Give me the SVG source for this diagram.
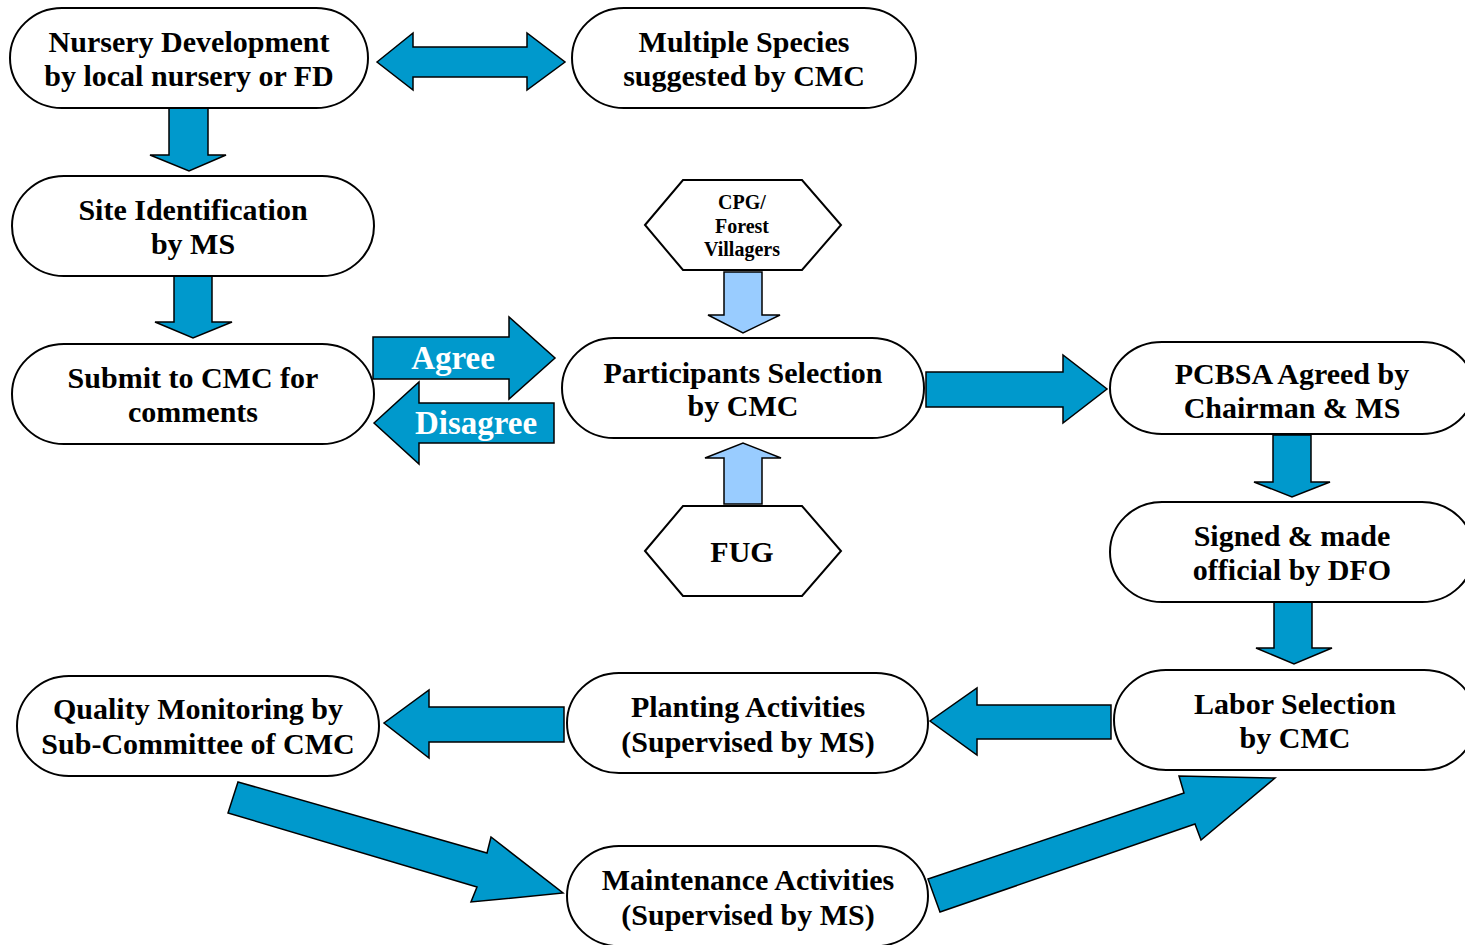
<svg xmlns="http://www.w3.org/2000/svg" width="1465" height="945" viewBox="0 0 1465 945">
<style>
.n{fill:#fff;stroke:#000;stroke-width:2}
.t{font-family:"Liberation Serif","Times New Roman",serif;font-weight:bold;font-size:30px;text-anchor:middle;fill:#000}
.s{font-size:20px}
.a{fill:#0099CC;stroke:#000;stroke-width:1.5;stroke-linejoin:miter}
.l{fill:#99CCFF;stroke:#000;stroke-width:1.5}
.w{font-family:"Liberation Serif","Times New Roman",serif;font-weight:bold;font-size:33px;text-anchor:middle;fill:#fff}
</style>
<rect width="1465" height="945" fill="#fff"/>
<g id="connectors">
<polygon class="a" points="377,62 413,33 413,47 527,47 527,33 565,62 527,90 527,77 413,77 413,90"/>
<polygon class="a" points="169,108 208,108 208,155 226,155 189,171 150,155 169,155"/>
<polygon class="a" points="174,276 212,276 212,322 232,322 193,338 155,322 174,322"/>
<polygon class="a" points="373,337 509,337 509,317 555,358 509,399 509,379 373,379"/>
<text class="w" x="453" y="369">Agree</text>
<polygon class="a" points="374,423 419,382 419,403 554,403 554,443 419,443 419,464"/>
<text class="w" x="476" y="434">Disagree</text>
<polygon class="l" points="724,272 762,272 762,315 780,315 743,333 708,315 724,315"/>
<polygon class="l" points="724,504 762,504 762,458 781,458 743,443 705,458 724,458"/>
<polygon class="a" points="926,372 1063,372 1063,355 1107,389 1063,423 1063,407 926,407"/>
<polygon class="a" points="1273,435 1311,435 1311,482 1330,482 1292,497 1254,482 1273,482"/>
<polygon class="a" points="1274,602 1312,602 1312,648 1332,648 1294,664 1256,648 1274,648"/>
<polygon class="a" points="1111,705 977,705 977,688 930,721 977,755 977,739 1111,739"/>
<polygon class="a" points="564,707 429,707 429,690 384,723 429,758 429,742 564,742"/>
<polygon class="a" points="238,782 487,853 491,837 563,893 471,902 477,887 228,813"/>
<polygon class="a" points="928,879 1184,793 1179,776 1275,778 1201,840 1195,824 940,912"/>
</g>
<g id="nursery"><rect class="n" x="10" y="8" width="358" height="100" rx="52" ry="50"/><text class="t" x="189" y="52">Nursery Development</text><text class="t" x="189" y="86">by local nursery or FD</text></g>
<g id="species"><rect class="n" x="572" y="8" width="344" height="100" rx="52" ry="50"/><text class="t" x="744" y="52">Multiple Species</text><text class="t" x="744" y="86">suggested by CMC</text></g>
<g id="site"><rect class="n" x="12" y="176" width="362" height="100" rx="52" ry="50"/><text class="t" x="193" y="220">Site Identification</text><text class="t" x="193" y="254">by MS</text></g>
<g id="submit"><rect class="n" x="12" y="344" width="362" height="100" rx="52" ry="50"/><text class="t" x="193" y="388">Submit to CMC for</text><text class="t" x="193" y="422">comments</text></g>
<g id="cpg"><polygon class="n" points="645,225 683,180 802,180 841,225 802,270 683,270"/><text class="t s" x="742" y="209">CPG/</text><text class="t s" x="742" y="233">Forest</text><text class="t s" x="742" y="256">Villagers</text></g>
<g id="participants"><rect class="n" x="562" y="338" width="362" height="100" rx="52" ry="50"/><text class="t" x="743" y="383">Participants Selection</text><text class="t" x="743" y="416">by CMC</text></g>
<g id="fug"><polygon class="n" points="645,551 683,506 802,506 841,551 802,596 683,596"/><text class="t" x="742" y="562">FUG</text></g>
<g id="pcbsa"><rect class="n" x="1110" y="342" width="364" height="92" rx="52" ry="46"/><text class="t" x="1292" y="384">PCBSA Agreed by</text><text class="t" x="1292" y="418">Chairman &amp; MS</text></g>
<g id="signed"><rect class="n" x="1110" y="502" width="364" height="100" rx="52" ry="50"/><text class="t" x="1292" y="546">Signed &amp; made</text><text class="t" x="1292" y="580">official by DFO</text></g>
<g id="labor"><rect class="n" x="1114" y="670" width="362" height="100" rx="52" ry="50"/><text class="t" x="1295" y="714">Labor Selection</text><text class="t" x="1295" y="748">by CMC</text></g>
<g id="planting"><rect class="n" x="567" y="673" width="361" height="100" rx="52" ry="50"/><text class="t" x="748" y="717">Planting Activities</text><text class="t" x="748" y="752">(Supervised by MS)</text></g>
<g id="quality"><rect class="n" x="17" y="676" width="362" height="100" rx="52" ry="50"/><text class="t" x="198" y="719">Quality Monitoring by</text><text class="t" x="198" y="754">Sub-Committee of CMC</text></g>
<g id="maintenance"><rect class="n" x="567" y="846" width="361" height="100" rx="52" ry="50"/><text class="t" x="748" y="890">Maintenance Activities</text><text class="t" x="748" y="925">(Supervised by MS)</text></g>
</svg>
